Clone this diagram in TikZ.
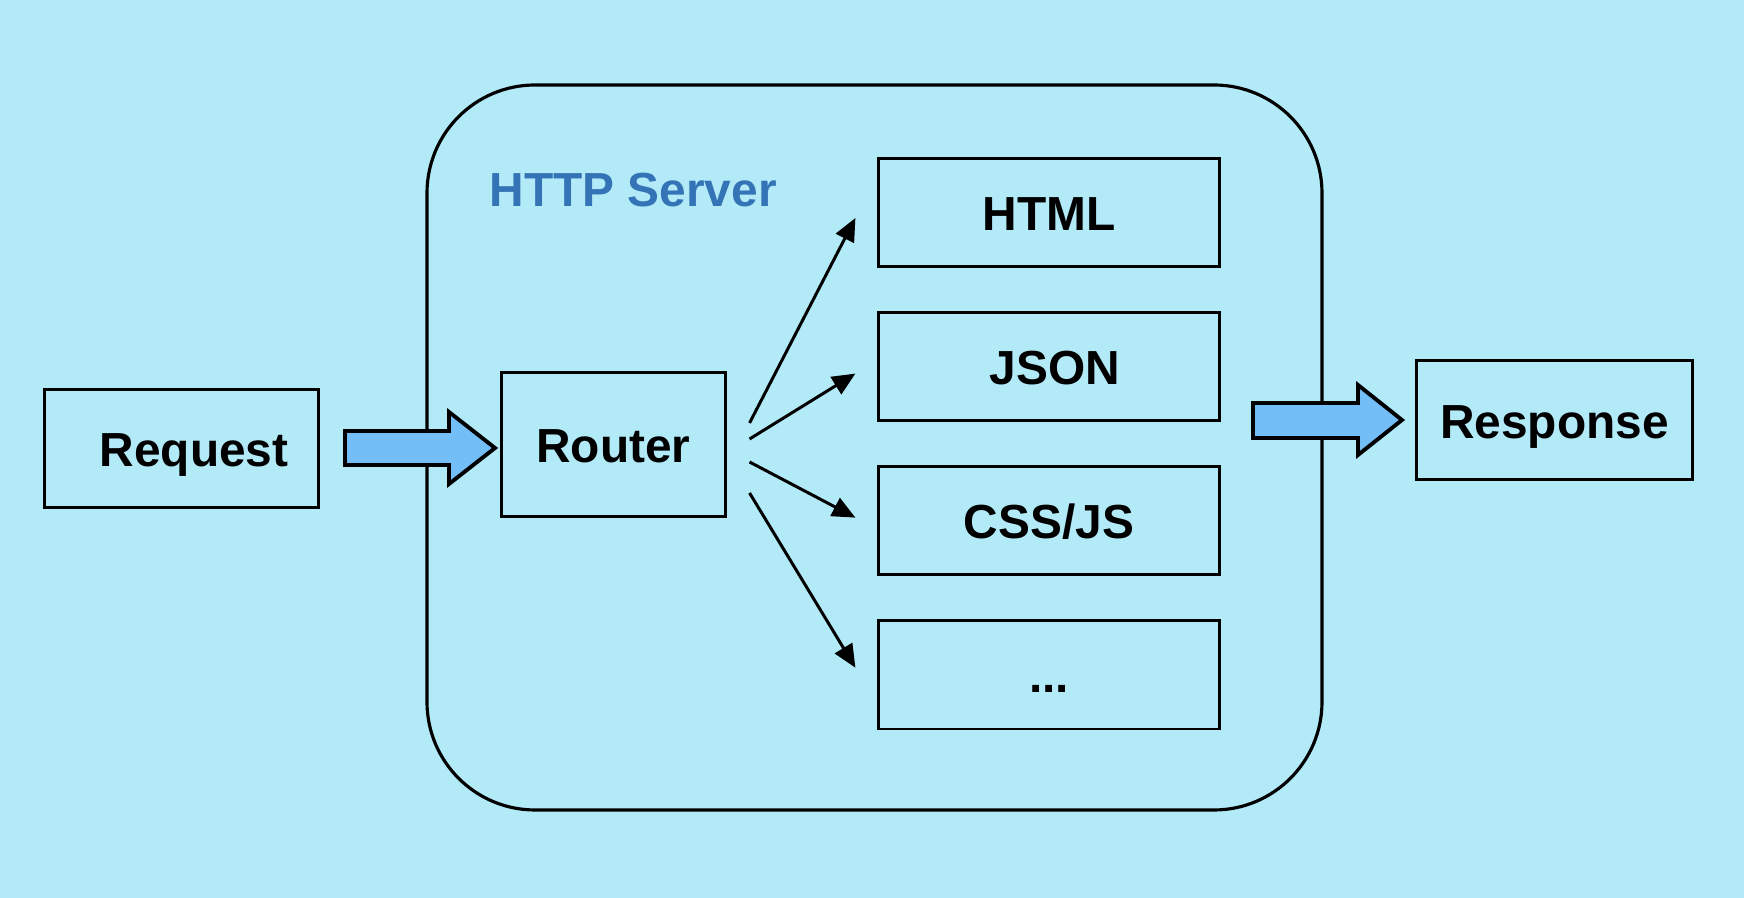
\documentclass[tikz,border=0pt]{standalone}
\usepackage{fontspec}
\setmainfont{Liberation Sans}
\usetikzlibrary{arrows.meta, positioning}
\usepackage{xcolor}
\definecolor{skybg}{RGB}{178,234,248}
\definecolor{arrowblue}{RGB}{116,190,248}
\definecolor{titleblue}{RGB}{52,116,182}
\newcommand\boxfont{\fontsize{13.6}{16}\selectfont\bfseries}
\tikzset{
  box/.style={draw,line width=0.85pt,inner sep=0pt,text height=10.3pt,text depth=0pt,font=\boxfont},
  stagebox/.style={box,minimum width=3.4cm,minimum height=1.085cm},
  blockarrow/.style={draw,fill=arrowblue,line width=1.1pt,line join=miter},
  route/.style={line width=0.85pt,-{Triangle[length=2.3mm,width=2mm]}}
}

\begin{document}
\begin{tikzpicture}[x=0.01cm,y=-0.01cm]
      \fill[skybg](0,0)rectangle(1744,898);
      % server frame
      \draw[line width=0.9pt,rounded corners=1.08cm](427,85)rectangle(1322,810);
      \node[anchor=base west,inner sep=0pt,text=titleblue,font=\boxfont](title)at(489,207){HTTP Server};
      \node[box,minimum width=2.735cm,minimum height=1.17cm](request)at(181.5,448.5){\hspace*{0.25cm}Request};
      \node[box,minimum width=2.23cm,minimum height=1.43cm](router)at(613.5,444.5){Router};
      \node[stagebox](html)at(1049,212.5){HTML};
      \node[stagebox,below=0.425cm of html](json){\hspace*{0.12cm}JSON};
      \node[stagebox,below=0.425cm of json](css){CSS/JS};
      \node[stagebox,below=0.425cm of css](dots){...};
      \node[box,minimum width=2.75cm,minimum height=1.18cm](response)at(1554.5,420){Response};
      % big arrows in and out
      \draw[blockarrow](345,431)--(449,431)--(449,412)--(495,448)--(449,484)--(449,465)--(345,465)--cycle;
      \draw[blockarrow](1253,403)--(1358,403)--(1358,385)--(1402,420)--(1358,455)--(1358,438)--(1253,438)--cycle;
      % router fan-out
      \draw[route]([shift={(23,-21.5)}]router.east)--([shift={(-22,5.5)}]html.west);
      \draw[route]([shift={(23,-5.5)}]router.east)--([shift={(-22,7)}]json.west);
      \draw[route]([shift={(23,17.5)}]router.east)--([shift={(-22,-3)}]css.west);
      \draw[route]([shift={(23,48.5)}]router.east)--([shift={(-22,-7)}]dots.west);
\end{tikzpicture}
\end{document}
